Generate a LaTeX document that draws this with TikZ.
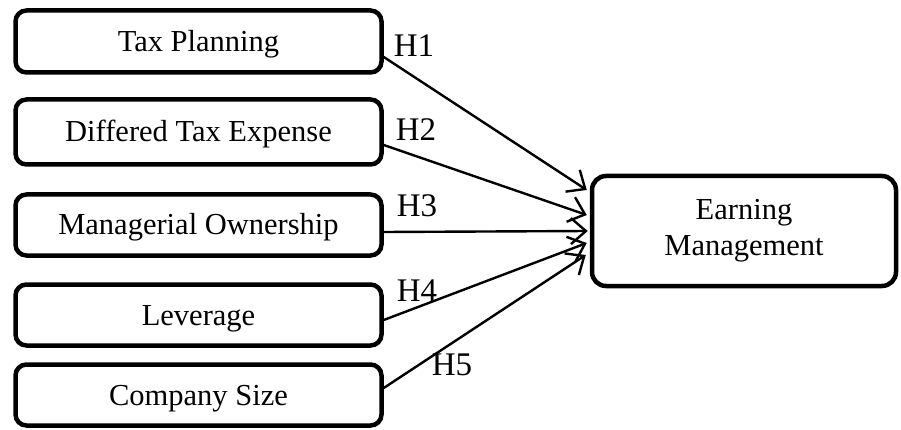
\documentclass[tikz,border=0pt]{standalone}
\usepackage{fontspec}
\setmainfont{Liberation Serif}
\usetikzlibrary{calc,arrows.meta}
\begin{document}
\begin{tikzpicture}[x=1pt,y=-1pt,
  factor/.style={draw,line width=4.5pt,rounded corners=11pt,
    minimum width=366pt,inner sep=0pt,text height=20pt,text depth=0pt,
    font=\fontsize{30.5}{34}\selectfont},
  target/.style={draw,line width=4.5pt,rounded corners=14pt,
    minimum width=304pt,minimum height=110pt,inner sep=0pt,
    align=center,font=\fontsize{30.5}{36}\selectfont},
  link/.style={line width=2.4pt,-{Straight Barb[length=15pt,width=26pt,line width=2.4pt]}},
  hyp/.style={font=\fontsize{33}{36}\selectfont,inner sep=0pt}]
\useasboundingbox (0,0) rectangle (901,430);
\clip (0,0) rectangle (901,430);

% independent variables
\node[factor,minimum height=62pt] (tp) at (198.5,41.5) {Tax Planning};
\node[factor,minimum height=65pt] (dt) at (198.5,132) {Differed Tax Expense};
\node[factor,minimum height=61pt] (mo) at (198.5,225) {Managerial Ownership};
\node[factor,minimum height=61pt] (lv) at (198.5,315) {Leverage};
\node[factor,minimum height=61pt] (cs) at (198.5,395) {Company Size};

% dependent variable
\node[target] (em) at (744,231) {Earning\\Management};

% hypothesised paths
\coordinate (s1) at ($(tp.east)+(0,15.5)$);
\coordinate (s2) at ($(dt.east)+(0,13)$);
\coordinate (s3) at ($(mo.east)+(0,7)$);
\coordinate (s4) at ($(lv.east)+(0,5)$);
\coordinate (s5) at ($(cs.east)+(0,-7)$);
\coordinate (e1) at ($(em.west)+(-3,-41)$);
\coordinate (e2) at ($(em.west)+(-3,-16)$);
\coordinate (e3) at ($(em.west)+(-2,0)$);
\coordinate (e4) at ($(em.west)+(-3,12)$);
\coordinate (e5) at ($(em.west)+(-4,24)$);
\draw[link] (s1) -- (e1);
\draw[link] (s2) -- (e2);
\draw[link] (s3) -- (e3);
\draw[link] (s4) -- (e4);
\draw[link] (s5) -- (e5);

% hypothesis labels
\node[hyp] (h1) at (414,46) {H1};
\node[hyp] (h2) at (416,130) {H2};
\node[hyp] (h3) at (417,206) {H3};
\node[hyp] (h4) at (417,291) {H4};
\node[hyp] (h5) at (452,365) {H5};
\end{tikzpicture}
\end{document}
